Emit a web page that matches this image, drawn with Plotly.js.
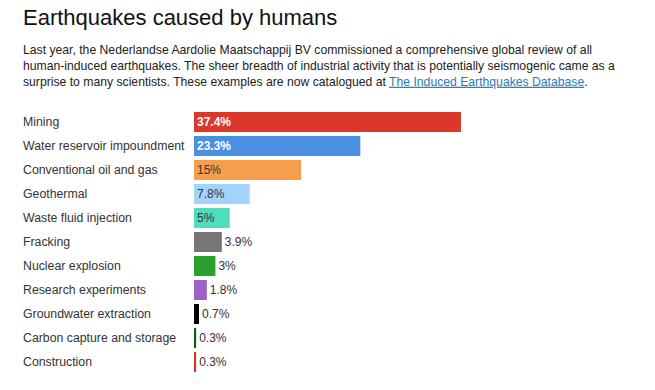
<!DOCTYPE html>
<html><head><meta charset="utf-8">
<script src="https://cdn.plot.ly/plotly-3.0.1.min.js"></script>
<style>html,body{margin:0;padding:0;background:#fff}#chart{width:655px;height:390px}</style>
</head><body><div id="chart"></div>
<script>
const categories = ["Mining","Water reservoir impoundment","Conventional oil and gas","Geothermal","Waste fluid injection","Fracking","Nuclear explosion","Research experiments","Groundwater extraction","Carbon capture and storage","Construction"];
const shares = [37.4, 23.3, 15, 7.8, 5, 3.9, 3, 1.8, 0.7, 0.3, 0.3];
const barColors = ["#d9382b","#4a8fe2","#f59e4b","#a3d3fb","#52dcbe","#767676","#2ca02c","#9a64c4","#000000","#0d5e14","#c9382c"];
const textColors = ["#ffffff","#ffffff","#333333","#333333","#333333","#333333","#333333","#333333","#333333","#333333","#333333"];
const textPos = ["inside","inside","inside","inside","inside","outside","outside","outside","outside","outside","outside"];
const textTpl = ["<b>%{x}%</b>","<b>%{x}%</b>","%{x}%","%{x}%","%{x}%","%{x}%","%{x}%","%{x}%","%{x}%","%{x}%","%{x}%"];

const W = 655, H = 390, L = 194, R = 5, T = 110, B = 16;
const plotW = W - L - R;
const plotH = H - T - B;
const xMax = plotW * 37.4 / 267;
const FONT = 'Liberation Sans, Arial, sans-serif';

const annotations = categories.map(c => ({
  text: c, xref: 'paper', yref: 'y', x: (21 - L) / plotW, y: c,
  xanchor: 'left', yanchor: 'middle', showarrow: false,
  font: {family: FONT, size: 12.3, color: '#333'}
}));
annotations.push({
  text: 'Earthquakes caused by humans', xref: 'paper', yref: 'paper',
  x: (21 - L) / plotW, y: (H - B - 17) / plotH, xanchor: 'left', yanchor: 'middle', showarrow: false,
  font: {family: FONT, size: 22, color: '#111'}
});
annotations.push({
  text: 'Last year, the Nederlandse Aardolie Maatschappij BV commissioned a comprehensive global review of all<br>human-induced earthquakes. The sheer breadth of industrial activity that is potentially seismogenic came as a<br>surprise to many scientists. These examples are now catalogued at <a href="https://inducedearthquakes.org" style="color:#2a7ab8;text-decoration:underline">The Induced Earthquakes Database</a>.',
  xref: 'paper', yref: 'paper', align: 'left',
  x: (21 - L) / plotW, y: (H - B - 66) / plotH, xanchor: 'left', yanchor: 'middle', showarrow: false,
  font: {family: FONT, size: 12.2, color: '#222'}
});

Plotly.newPlot('chart', [{
  type: 'bar', orientation: 'h', y: categories, x: shares,
  marker: {color: barColors},
  texttemplate: textTpl, textposition: textPos, insidetextanchor: 'start',
  textfont: {family: FONT, size: 12, color: textColors},
  outsidetextfont: {family: FONT, size: 12, color: '#333'},
  constraintext: 'none', cliponaxis: false, hoverinfo: 'skip'
}], {
  width: W, height: H, margin: {l: L, r: R, t: T, b: B},
  paper_bgcolor: '#fff', plot_bgcolor: '#fff', showlegend: false, bargap: 4/24,
  xaxis: {range: [0, xMax], visible: false, fixedrange: true},
  yaxis: {type: 'category', range: [10.5, -0.5], showticklabels: false, showgrid: false, zeroline: false, ticks: '', fixedrange: true},
  annotations: annotations
}, {displayModeBar: false, staticPlot: true});
</script></body></html>
